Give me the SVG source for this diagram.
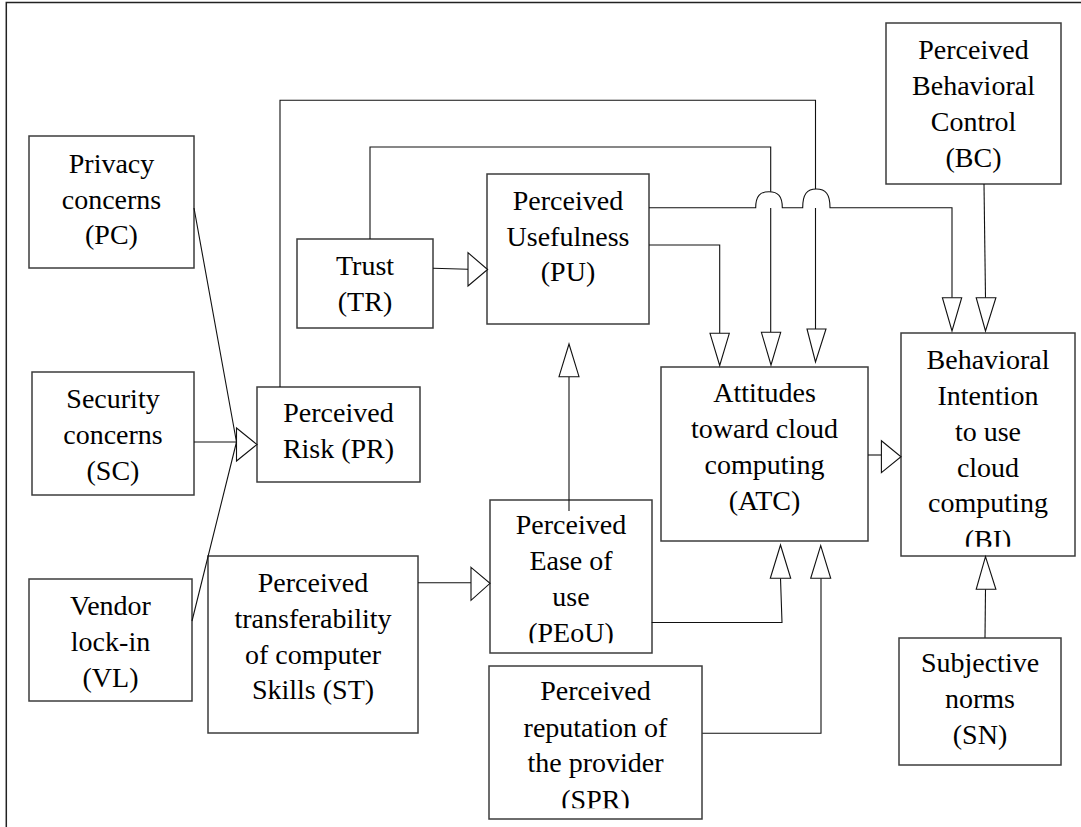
<svg xmlns="http://www.w3.org/2000/svg" width="1081" height="827" viewBox="0 0 1081 827">
<style>
.box{fill:#fff;stroke:#3c3c3c;stroke-width:1.5}
.ln{fill:none;stroke:#111;stroke-width:1.1}
.ah{fill:#fff;stroke:#111;stroke-width:1.1;stroke-linejoin:miter}
.t{font-family:"Liberation Serif","Times New Roman",serif;font-size:28px;fill:#000;text-anchor:middle}
.frame{fill:none;stroke:#222;stroke-width:1.5}
</style>
<defs>
<clipPath id="cPEoU"><rect x="490" y="500" width="162" height="143.3"/></clipPath>
<clipPath id="cSPR"><rect x="489" y="666" width="213" height="142.3"/></clipPath>
<clipPath id="cBI"><rect x="901" y="333" width="174" height="213.7"/></clipPath>
</defs>
<rect width="1081" height="827" fill="#fff"/>
<path class="frame" d="M6.3,827 V2.5 H1081"/>

<g id="PC"><rect class="box" x="29" y="136" width="165" height="132"/>
<text class="t" x="111.5" y="173">Privacy</text><text class="t" x="111.5" y="208.5">concerns</text><text class="t" x="111.5" y="244">(PC)</text></g>
<g id="SC"><rect class="box" x="32" y="372" width="162" height="123"/>
<text class="t" x="113" y="408">Security</text><text class="t" x="113" y="444">concerns</text><text class="t" x="113" y="480">(SC)</text></g>
<g id="VL"><rect class="box" x="29" y="579" width="163" height="122"/>
<text class="t" x="110.5" y="615">Vendor</text><text class="t" x="110.5" y="651">lock-in</text><text class="t" x="110.5" y="687">(VL)</text></g>
<g id="TR"><rect class="box" x="297" y="239" width="136" height="89"/>
<text class="t" x="365" y="275">Trust</text><text class="t" x="365" y="311">(TR)</text></g>
<g id="PU"><rect class="box" x="487" y="174" width="162" height="150"/>
<text class="t" x="568" y="210">Perceived</text><text class="t" x="568" y="246">Usefulness</text><text class="t" x="568" y="281">(PU)</text></g>
<g id="PR"><rect class="box" x="257" y="387" width="163" height="95"/>
<text class="t" x="338.5" y="421.5">Perceived</text><text class="t" x="338.5" y="458">Risk (PR)</text></g>
<g id="ST"><rect class="box" x="208" y="556" width="210" height="177"/>
<text class="t" x="313" y="591.7">Perceived</text><text class="t" x="313" y="627.7">transferability</text><text class="t" x="313" y="663.5">of computer</text><text class="t" x="313" y="699.3">Skills (ST)</text></g>
<g id="PEoU"><rect class="box" x="490" y="500" width="162" height="153"/>
<g clip-path="url(#cPEoU)"><text class="t" x="571" y="533.5">Perceived</text><text class="t" x="571" y="569.5">Ease of</text><text class="t" x="571" y="605.5">use</text><text class="t" x="571" y="642">(PEoU)</text></g></g>
<g id="SPR"><rect class="box" x="489" y="666" width="213" height="153"/>
<g clip-path="url(#cSPR)"><text class="t" x="595.5" y="700">Perceived</text><text class="t" x="595.5" y="736.5">reputation of</text><text class="t" x="595.5" y="772">the provider</text><text class="t" x="595.5" y="809">(SPR)</text></g></g>
<g id="ATC"><rect class="box" x="661" y="367" width="207" height="174"/>
<text class="t" x="764.5" y="401.5">Attitudes</text><text class="t" x="764.5" y="437.5">toward cloud</text><text class="t" x="764.5" y="473.5">computing</text><text class="t" x="764.5" y="509.5">(ATC)</text></g>
<g id="BI"><rect class="box" x="901" y="333" width="174" height="223"/>
<g clip-path="url(#cBI)"><text class="t" x="988" y="368.5">Behavioral</text><text class="t" x="988" y="404.5">Intention</text><text class="t" x="988" y="440.5">to use</text><text class="t" x="988" y="476.5">cloud</text><text class="t" x="988" y="512">computing</text><text class="t" x="988" y="549">(BI)</text></g></g>
<g id="BC"><rect class="box" x="886" y="23" width="175" height="161"/>
<text class="t" x="973.5" y="58.5">Perceived</text><text class="t" x="973.5" y="94.5">Behavioral</text><text class="t" x="973.5" y="130.5">Control</text><text class="t" x="973.5" y="166.5">(BC)</text></g>
<g id="SN"><rect class="box" x="899" y="638" width="162" height="127"/>
<text class="t" x="980" y="672">Subjective</text><text class="t" x="980" y="708">norms</text><text class="t" x="980" y="744">(SN)</text></g>

<g id="connectors">
<path class="ln" d="M194,208 L236.5,442 M194,442 H236.5 M192,621 L236.5,442"/>
<polygon class="ah" points="236.5,428 257,444.5 236.5,461"/>
<path class="ln" d="M280,387 V100.3 H815.5 V189 M815.5,208 V329"/>
<polygon class="ah" points="807,329 826,329 815.5,362"/>
<path class="ln" d="M370,239 V147 H770.7 V191.7 M770.7,208 V332.3"/>
<polygon class="ah" points="761.4,332.3 780.7,332.3 771,365"/>
<path class="ln" d="M433,268.3 L468,269.3"/>
<polygon class="ah" points="468,252.7 487.6,269.5 468,286"/>
<path class="ln" d="M649,245 H719.7 V333.3"/>
<polygon class="ah" points="710,333.3 729.3,333.3 719.7,365.5"/>
<path class="ln" d="M649,207.7 H755.7 C755.7,196 760,191.7 769,191.7 C778,191.7 782.3,196 782.3,207.7 H802.7 C802.7,194 807,189 816.3,189 C825.7,189 830,194 830,207.7 H952 V297.7"/>
<polygon class="ah" points="942.4,297.7 961.7,297.7 952,331"/>
<path class="ln" d="M984,184 L985.5,297.7"/>
<polygon class="ah" points="976.2,297.7 995.9,297.7 985.5,331"/>
<path class="ln" d="M868,455 H881.4"/>
<polygon class="ah" points="881.4,440.7 901,456.7 881.4,472.7"/>
<path class="ln" d="M569,511 V376.7"/>
<polygon class="ah" points="559,376.7 579,376.7 569,344"/>
<path class="ln" d="M418,582.7 H471"/>
<polygon class="ah" points="471,567.3 490,583.3 471,600.3"/>
<path class="ln" d="M651.7,622.5 H782 L780.5,578.3"/>
<polygon class="ah" points="770.3,578.3 790.7,578.3 780.5,545"/>
<path class="ln" d="M702.4,733.3 H821 V578.3"/>
<polygon class="ah" points="810.7,578.3 830.7,578.3 820.7,545.7"/>
<path class="ln" d="M985,637.7 L985.5,589.3"/>
<polygon class="ah" points="976.2,589.3 995.9,589.3 985.5,556.7"/>
</g>
</svg>
